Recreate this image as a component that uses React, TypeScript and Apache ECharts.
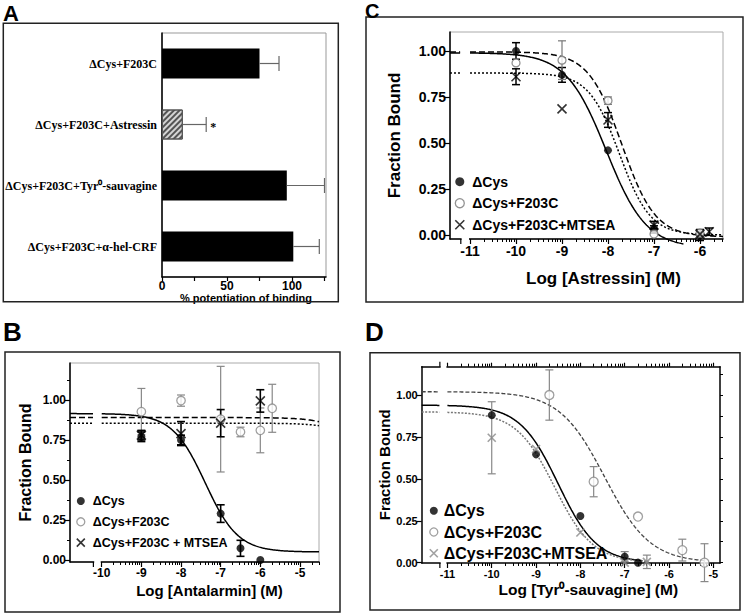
import React, { useEffect, useRef } from 'react';
import * as echarts from 'echarts';

const SANS = '"Liberation Sans", Arial, Helvetica, sans-serif';
const SERIF = '"Liberation Serif", "Times New Roman", serif';

// ---------------- Panel A data ----------------
const A_CATEGORIES = ['ΔCys+F203C', 'ΔCys+F203C+Astressin', 'ΔCys+F203C+Tyr⁰-sauvagine', 'ΔCys+F203C+α-hel-CRF'];
const A_VALUES = [75, 16, 96, 101];
const A_ERRORS = [15, 18, 29, 20];
const A_SIGNIF = ['', '*', '', ''];
const A_HATCHED = [false, true, false, false];
const A_X_TICKS = [0, 25, 50, 75, 100, 125];
const A_X_LABELS = [0, 50, 100];

// ---------------- Panel C data (Astressin) ----------------
const C_X_LABELS = [-11, -10, -9, -8, -7, -6];
const C_Y_LABELS = [0, 0.25, 0.5, 0.75, 1.0];
const C_CYS_X = [-10, -9, -8, -7, -6];
const C_CYS_Y = [1.0, 0.87, 0.46, 0.03, 0.0];
const C_CYS_ERR = [0.045, 0.04, 0, 0.02, 0.03];
const C_F203C_X = [-10, -9, -8, -7, -6];
const C_F203C_Y = [0.935, 0.95, 0.73, 0.005, 0.01];
const C_F203C_ERR = [0, 0.105, 0.02, 0, 0];
const C_MTSEA_X = [-10, -9, -8, -7, -6, -5.8];
const C_MTSEA_Y = [0.86, 0.685, 0.625, 0.054, 0.005, 0.018];
const C_MTSEA_ERR = [0.043, 0, 0.04, 0.02, 0, 0.02];
// fit: [top, bottom, logIC50, hill]
const C_FIT_CYS = [0.99, -0.07, -8.04, 1.0];
const C_FIT_F203C = [0.995, -0.01, -7.7, 1.2];
const C_FIT_MTSEA = [0.88, 0.0, -7.75, 1.3];

// ---------------- Panel B data (Antalarmin) ----------------
const B_X_LABELS = [-10, -9, -8, -7, -6, -5];
const B_Y_LABELS = [0, 0.25, 0.5, 0.75, 1.0];
const B_Y_MINOR = [0.125, 0.375, 0.625, 0.875, 1.125];
const B_CYS_X = [-9, -8, -7, -6.5, -6];
const B_CYS_Y = [0.77, 0.75, 0.29, 0.073, 0.0];
const B_CYS_ERR = [0.03, 0.03, 0.055, 0.05, 0];
const B_F203C_X = [-9, -8, -7, -6.5, -6, -5.7];
const B_F203C_Y = [0.927, 0.996, 0.88, 0.8, 0.81, 0.948];
const B_F203C_ERR = [0.145, 0.035, 0.33, 0.03, 0.14, 0.15];
const B_MTSEA_X = [-9, -8, -7, -6];
const B_MTSEA_Y = [0.78, 0.79, 0.855, 0.994];
const B_MTSEA_ERR = [0.03, 0.075, 0.085, 0.07];
const B_FIT_CYS = [0.915, 0.05, -7.39, 1.05];
const B_FIT_F203C = [0.89, 0.0, -3.0, 1.0];
const B_FIT_MTSEA = [0.855, 0.0, -2.8, 1.0];

// ---------------- Panel D data (Tyr0-sauvagine) ----------------
const D_X_LABELS = [-11, -10, -9, -8, -7, -6, -5];
const D_Y_LABELS = [0, 0.25, 0.5, 0.75, 1.0];
const D_Y_RIGHT_TICKS = [0, 0.125, 0.25, 0.375, 0.5, 0.625, 0.75, 0.875, 1.0, 1.125];
const D_CYS_X = [-10, -9, -8, -7, -6.7];
const D_CYS_Y = [0.88, 0.646, 0.278, 0.036, 0.0];
const D_CYS_ERR = [0, 0, 0, 0.03, 0];
const D_F203C_X = [-8.7, -7.7, -6.7, -5.7, -5.2];
const D_F203C_Y = [1.0, 0.483, 0.275, 0.075, 0.0];
const D_F203C_ERR = [0.15, 0.09, 0, 0.065, 0.113];
const D_MTSEA_X = [-10, -9, -8, -7, -6.5];
const D_MTSEA_Y = [0.745, 0.678, 0.18, 0.0, 0.005];
const D_MTSEA_ERR = [0.215, 0, 0, 0, 0.04];
const D_FIT_CYS = [0.94, 0.0, -8.5, 1.0];
const D_FIT_F203C = [1.02, 0.0, -7.45, 0.85];
const D_FIT_MTSEA = [0.9, 0.0, -8.58, 1.0];

// ---------------- layout ----------------
const GA = { left: 162, top: 33, width: 164, height: 244 };
const PC = { grid: { left: 450, top: 32, width: 273, height: 207 }, xMin: -11.435, xMax: -5.5, yMin: -0.0217, yMax: 1.103, brk: [-11.2, -11.0] };
const PB = { grid: { left: 70, top: 363, width: 249, height: 199 }, xMin: -10.8, xMax: -4.52, yMin: -0.0125, yMax: 1.231, brk: [-10.21, -10.0] };
const PD = { grid: { left: 421.7, top: 366.7, width: 298.3, height: 196.3 }, xMin: -11.58, xMax: -4.85, yMin: -0.002, yMax: 1.169, brk: [-11.17, -11.0] };

const X_SYMBOL = 'path://M0,0L10,10M10,0L0,10';

function logMinor(from: number, to: number, xMax: number) {
  const out: number[] = [];
  for (let d = from; d < to; d++) {
    for (let k = 2; k <= 9; k++) {
      const v = d + Math.log10(k);
      if (v < xMax) out.push(v);
    }
  }
  return out;
}

function sigmoid(fit: number[], x: number) {
  const [top, bottom, ec50, hill] = fit;
  return bottom + (top - bottom) / (1 + Math.pow(10, hill * (x - ec50)));
}

function curveData(fit: number[], x0: number, brk: number[], x1: number) {
  const pts: any[] = [];
  const step = 0.02;
  for (let x = x0; x < brk[0]; x += step) pts.push([x, sigmoid(fit, x)]);
  pts.push([brk[0], sigmoid(fit, brk[0])]);
  pts.push([(brk[0] + brk[1]) / 2, '-']);
  for (let x = brk[1]; x < x1; x += step) pts.push([x, sigmoid(fit, x)]);
  pts.push([x1, sigmoid(fit, x1)]);
  return pts;
}

function lineSeries(name: string, data: any[], xi: number, yi: number, color: string, type: any, width = 1.5) {
  return {
    type: 'line', name, xAxisIndex: xi, yAxisIndex: yi, data, showSymbol: false, symbol: 'none',
    connectNulls: false, clip: false, silent: true, z: 2,
    lineStyle: { color, width, type },
  };
}

function errSeries(name: string, xs: number[], ys: number[], errs: number[], xi: number, yi: number, color: string, width: number, cap: number) {
  return {
    type: 'custom', name, xAxisIndex: xi, yAxisIndex: yi, z: 3, clip: false, silent: true,
    data: xs.map((x, i) => [x, ys[i], errs[i]]).filter((d) => d[2] > 0),
    encode: { x: 0, y: 1 },
    renderItem: (_p: any, api: any) => {
      const x = api.value(0), y = api.value(1), e = api.value(2);
      const t = api.coord([x, y + e]);
      const b = api.coord([x, y - e]);
      const st = { stroke: color, lineWidth: width };
      return {
        type: 'group',
        children: [
          { type: 'line', shape: { x1: t[0], y1: t[1], x2: b[0], y2: b[1] }, style: st },
          { type: 'line', shape: { x1: t[0] - cap, y1: t[1], x2: t[0] + cap, y2: t[1] }, style: st },
          { type: 'line', shape: { x1: b[0] - cap, y1: b[1], x2: b[0] + cap, y2: b[1] }, style: st },
        ],
      };
    },
  };
}

function markerStyle(kind: string, color: string) {
  if (kind === 'open') return { symbol: 'circle', itemStyle: { color: '#fff', borderColor: color, borderWidth: 1.3 } };
  if (kind === 'x') return { symbol: X_SYMBOL, itemStyle: { color: 'rgba(0,0,0,0)', borderColor: color, borderWidth: 1.6 } };
  return { symbol: 'circle', itemStyle: { color, borderColor: color, borderWidth: 0 } };
}

function scatterSeries(name: string, xs: number[], ys: number[], xi: number, yi: number, kind: string, color: string, size: number) {
  const m = markerStyle(kind, color);
  return {
    type: 'scatter', name, xAxisIndex: xi, yAxisIndex: yi, z: 4, clip: false, silent: true,
    symbol: m.symbol, symbolSize: size, itemStyle: m.itemStyle,
    data: xs.map((x, i) => [x, ys[i]]),
  };
}

function mainX(gi: number, p: any, labels: number[], fontSize: number, name: string, nameGap: number, nameSize: number, padLeft: number) {
  return {
    type: 'value', gridIndex: gi, position: 'bottom', min: p.xMin, max: p.xMax,
    axisLine: { show: true, onZero: false, lineStyle: { color: '#000', width: 1.5 } },
    axisTick: { show: true, customValues: labels, length: 5, lineStyle: { color: '#000', width: 1.2 } },
    axisLabel: {
      show: true, customValues: labels, margin: 5, color: '#000', fontSize, fontWeight: 'bold', fontFamily: SANS,
      formatter: (v: number) => String(v),
    },
    splitLine: { show: false },
    name, nameLocation: 'middle', nameGap,
    nameTextStyle: { color: '#000', fontSize: nameSize, fontWeight: 'bold', fontFamily: SANS, padding: [0, 0, 0, padLeft] },
  };
}

function tickOnlyX(gi: number, p: any, ticks: number[], position: string, length: number) {
  return {
    type: 'value', gridIndex: gi, position, min: p.xMin, max: p.xMax,
    axisLine: { show: true, onZero: false, lineStyle: { color: '#000', width: 1.5, opacity: 0 } },
    axisTick: { show: true, customValues: ticks, length, lineStyle: { color: '#000', width: 1 } },
    axisLabel: { show: false },
    splitLine: { show: false },
  };
}

function mainY(gi: number, p: any, labels: number[], fontSize: number, name: string, nameGap: number, nameSize: number) {
  return {
    type: 'value', gridIndex: gi, position: 'left', min: p.yMin, max: p.yMax,
    axisLine: { show: true, onZero: false, lineStyle: { color: '#000', width: 1.5 } },
    axisTick: { show: true, customValues: labels, length: 5, lineStyle: { color: '#000', width: 1.2 } },
    axisLabel: {
      show: true, customValues: labels, margin: 4, color: '#000', fontSize, fontWeight: 'bold', fontFamily: SANS,
      formatter: (v: number) => v.toFixed(2),
    },
    splitLine: { show: false },
    name, nameLocation: 'middle', nameGap, nameRotate: 90,
    nameTextStyle: { color: '#000', fontSize: nameSize, fontWeight: 'bold', fontFamily: SANS },
  };
}

function legendCfg(items: { name: string; kind: string; color: string }[], left: number, top: number, icon: number, fontSize: number, lineHeight: number, gap: number, pad: number) {
  return {
    data: items.map((it) => {
      const m = markerStyle(it.kind, it.color);
      return { name: it.name, icon: m.symbol, itemStyle: m.itemStyle };
    }),
    orient: 'vertical', left, top, padding: 0, itemWidth: icon, itemHeight: icon, itemGap: gap,
    selectedMode: false,
    formatter: (n: string) => n.split('|')[1],
    textStyle: { color: '#000', fontSize, fontWeight: 'bold', fontFamily: SANS, lineHeight, padding: [0, 0, 0, pad] },
  };
}

function buildOption() {
  const cMinor = logMinor(-11, -5, PC.xMax);
  const bMinor = logMinor(-10, -4, PB.xMax);
  const dMinor = logMinor(-11, -4, PD.xMax);

  const grids = [
    { ...GA, show: true, borderColor: '#999', borderWidth: 1, backgroundColor: 'transparent', outerBoundsMode: 'none' },
    { ...PC.grid, show: true, borderColor: '#aaa', borderWidth: 1, backgroundColor: 'transparent', outerBoundsMode: 'none' },
    { ...PB.grid, show: true, borderColor: '#aaa', borderWidth: 1, backgroundColor: 'transparent', outerBoundsMode: 'none' },
    { ...PD.grid, show: false, outerBoundsMode: 'none' },
  ];

  const xAxis = [
    // 0: A
    {
      type: 'value', gridIndex: 0, position: 'bottom', min: 0, max: GA.width / 1.3,
      axisLine: { show: true, onZero: false, lineStyle: { color: '#000', width: 1.5 } },
      axisTick: { show: true, customValues: A_X_TICKS, length: 4, lineStyle: { color: '#000', width: 1.2 } },
      axisLabel: { show: true, customValues: A_X_LABELS, margin: 3, color: '#000', fontSize: 12, fontWeight: 'bold', fontFamily: SANS },
      splitLine: { show: false },
      name: '% potentiation of binding', nameLocation: 'middle', nameGap: 14,
      nameTextStyle: { color: '#000', fontSize: 11, fontWeight: 'bold', fontFamily: SANS, padding: [0, 0, 0, 4] },
    },
    // 1,2: C
    mainX(1, PC, C_X_LABELS, 14, 'Log [Astressin] (M)', 31, 17, 34),
    tickOnlyX(1, PC, cMinor, 'bottom', 3),
    // 3,4: B
    mainX(2, PB, B_X_LABELS, 12, 'Log [Antalarmin] (M)', 21, 15, 30),
    tickOnlyX(2, PB, bMinor, 'bottom', 3),
    // 5,6: D bottom
    mainX(3, PD, D_X_LABELS, 11, 'Log [Tyr⁰-sauvagine] (M)', 18, 15.5, 35),
    tickOnlyX(3, PD, dMinor, 'bottom', 3),
    // 7,8: D top
    {
      type: 'value', gridIndex: 3, position: 'top', min: PD.xMin, max: PD.xMax,
      axisLine: { show: true, onZero: false, lineStyle: { color: '#000', width: 1.5 } },
      axisTick: { show: true, customValues: D_X_LABELS, length: 4, lineStyle: { color: '#000', width: 1.2 } },
      axisLabel: { show: false }, splitLine: { show: false },
    },
    tickOnlyX(3, PD, dMinor, 'top', 3),
  ];

  const yAxis = [
    // 0: A
    {
      type: 'category', gridIndex: 0, data: A_CATEGORIES, inverse: true,
      axisLine: { show: true, onZero: false, lineStyle: { color: '#000', width: 1.5 } },
      axisTick: { show: false },
      axisLabel: { color: '#000', fontFamily: SERIF, fontWeight: 'bold', fontSize: 12, margin: 5 },
      splitLine: { show: false },
    },
    // 1: C
    mainY(1, PC, C_Y_LABELS, 14, 'Fraction Bound', 47, 17),
    // 2: B
    mainY(2, PB, B_Y_LABELS, 12, 'Fraction Bound', 37, 16),
    // 3: B minor
    {
      type: 'value', gridIndex: 2, position: 'left', min: PB.yMin, max: PB.yMax,
      axisLine: { show: true, onZero: false, lineStyle: { opacity: 0 } },
      axisTick: { show: true, customValues: B_Y_MINOR, length: 3, lineStyle: { color: '#000', width: 1 } },
      axisLabel: { show: false }, splitLine: { show: false },
    },
    // 4: D left
    mainY(3, PD, D_Y_LABELS, 11, 'Fraction Bound', 28, 15),
    // 5: D right
    {
      type: 'value', gridIndex: 3, position: 'right', min: PD.yMin, max: PD.yMax,
      axisLine: { show: true, onZero: false, lineStyle: { color: '#000', width: 1.5 } },
      axisTick: { show: true, customValues: D_Y_RIGHT_TICKS, length: 3, lineStyle: { color: '#000', width: 1 } },
      axisLabel: { show: false }, splitLine: { show: false },
    },
  ];

  const hatch = {
    color: '#d4d4d4', borderColor: '#555', borderWidth: 1,
    decal: { symbol: 'rect', symbolSize: 1, color: 'rgba(70,70,70,0.9)', dashArrayX: [1, 0], dashArrayY: [1.2, 2], rotation: -Math.PI / 4 },
  };

  const series: any[] = [
    // ---- A ----
    {
      type: 'bar', name: 'A-bars', xAxisIndex: 0, yAxisIndex: 0, barWidth: 30, silent: true, z: 2,
      itemStyle: { color: '#000' },
      data: A_VALUES.map((v, i) => (A_HATCHED[i] ? { value: v, itemStyle: hatch } : v)),
    },
    {
      type: 'custom', name: 'A-err', xAxisIndex: 0, yAxisIndex: 0, z: 3, clip: false, silent: true,
      data: A_VALUES.map((v, i) => [v, i, A_ERRORS[i]]),
      encode: { x: 0, y: 1 },
      renderItem: (params: any, api: any) => {
        const v = api.value(0), c = api.value(1), e = api.value(2);
        const p0 = api.coord([v, c]);
        const p1 = api.coord([v + e, c]);
        const st = { stroke: '#666', lineWidth: 1.2 };
        const children: any[] = [
          { type: 'line', shape: { x1: p0[0], y1: p0[1], x2: p1[0], y2: p1[1] }, style: st },
          { type: 'line', shape: { x1: p1[0], y1: p1[1] - 7.5, x2: p1[0], y2: p1[1] + 7.5 }, style: st },
        ];
        const sig = A_SIGNIF[params.dataIndex];
        if (sig) {
          children.push({
            type: 'text', x: p1[0] + 4, y: p1[1] + 2,
            style: { text: sig, fill: '#000', font: `bold 12px ${SERIF}`, textVerticalAlign: 'middle' },
          });
        }
        return { type: 'group', children };
      },
    },

    // ---- C ----
    lineSeries('C-fit-cys', curveData(C_FIT_CYS, PC.xMin, PC.brk, -6.35), 1, 1, '#000', 'solid'),
    lineSeries('C-fit-f203c', curveData(C_FIT_F203C, PC.xMin, PC.brk, PC.xMax), 1, 1, '#000', [6, 3]),
    lineSeries('C-fit-mtsea', curveData(C_FIT_MTSEA, PC.xMin, PC.brk, PC.xMax), 1, 1, '#000', [2, 2]),
    errSeries('C-err-cys', C_CYS_X, C_CYS_Y, C_CYS_ERR, 1, 1, '#000', 1.5, 4),
    errSeries('C-err-f203c', C_F203C_X, C_F203C_Y, C_F203C_ERR, 1, 1, '#777', 1.2, 4),
    errSeries('C-err-mtsea', C_MTSEA_X, C_MTSEA_Y, C_MTSEA_ERR, 1, 1, '#000', 1.5, 4),
    scatterSeries('C|ΔCys', C_CYS_X, C_CYS_Y, 1, 1, 'filled', '#000', 8),
    scatterSeries('C|ΔCys+F203C', C_F203C_X, C_F203C_Y, 1, 1, 'open', '#777', 8),
    scatterSeries('C|ΔCys+F203C+MTSEA', C_MTSEA_X, C_MTSEA_Y, 1, 1, 'x', '#000', 9),

    // ---- B ----
    lineSeries('B-fit-cys', curveData(B_FIT_CYS, PB.xMin, PB.brk, PB.xMax), 3, 2, '#000', 'solid'),
    lineSeries('B-fit-f203c', curveData(B_FIT_F203C, PB.xMin, PB.brk, PB.xMax), 3, 2, '#000', [6, 3]),
    lineSeries('B-fit-mtsea', curveData(B_FIT_MTSEA, PB.xMin, PB.brk, PB.xMax), 3, 2, '#000', [2, 2]),
    errSeries('B-err-f203c', B_F203C_X, B_F203C_Y, B_F203C_ERR, 3, 2, '#888', 1.2, 4),
    errSeries('B-err-cys', B_CYS_X, B_CYS_Y, B_CYS_ERR, 3, 2, '#000', 1.6, 4),
    errSeries('B-err-mtsea', B_MTSEA_X, B_MTSEA_Y, B_MTSEA_ERR, 3, 2, '#000', 1.6, 4),
    scatterSeries('B|ΔCys', B_CYS_X, B_CYS_Y, 3, 2, 'filled', '#000', 8),
    scatterSeries('B|ΔCys+F203C', B_F203C_X, B_F203C_Y, 3, 2, 'open', '#888', 8.5),
    scatterSeries('B|ΔCys+F203C + MTSEA', B_MTSEA_X, B_MTSEA_Y, 3, 2, 'x', '#000', 9),

    // ---- D ----
    lineSeries('D-fit-cys', curveData(D_FIT_CYS, PD.xMin, PD.brk, -6.6), 5, 4, '#000', 'solid'),
    lineSeries('D-fit-f203c', curveData(D_FIT_F203C, PD.xMin, PD.brk, -5.15), 5, 4, '#444', [4, 2], 1.3),
    lineSeries('D-fit-mtsea', curveData(D_FIT_MTSEA, PD.xMin, PD.brk, -6.45), 5, 4, '#777', [2, 1.5], 1.5),
    errSeries('D-err-cys', D_CYS_X, D_CYS_Y, D_CYS_ERR, 5, 4, '#888', 1.2, 4),
    errSeries('D-err-f203c', D_F203C_X, D_F203C_Y, D_F203C_ERR, 5, 4, '#888', 1.2, 4),
    errSeries('D-err-mtsea', D_MTSEA_X, D_MTSEA_Y, D_MTSEA_ERR, 5, 4, '#888', 1.2, 4),
    scatterSeries('D|ΔCys', D_CYS_X, D_CYS_Y, 5, 4, 'filled', '#000', 8),
    scatterSeries('D|ΔCys+F203C', D_F203C_X, D_F203C_Y, 5, 4, 'open', '#888', 9),
    scatterSeries('D|ΔCys+F203C+MTSEA', D_MTSEA_X, D_MTSEA_Y, 5, 4, 'x', '#888', 8),
  ];

  const legend = [
    legendCfg([
      { name: 'C|ΔCys', kind: 'filled', color: '#000' },
      { name: 'C|ΔCys+F203C', kind: 'open', color: '#777' },
      { name: 'C|ΔCys+F203C+MTSEA', kind: 'x', color: '#000' },
    ], 454.5, 173.7, 9, 14, 16, 5.5, 3),
    legendCfg([
      { name: 'B|ΔCys', kind: 'filled', color: '#000' },
      { name: 'B|ΔCys+F203C', kind: 'open', color: '#888' },
      { name: 'B|ΔCys+F203C + MTSEA', kind: 'x', color: '#000' },
    ], 76, 493.5, 8, 12.5, 15, 5.8, 3),
    legendCfg([
      { name: 'D|ΔCys', kind: 'filled', color: '#000' },
      { name: 'D|ΔCys+F203C', kind: 'open', color: '#888' },
      { name: 'D|ΔCys+F203C+MTSEA', kind: 'x', color: '#888' },
    ], 429, 501.7, 8, 16, 18, 3.3, 1),
  ];

  return {
    animation: false,
    backgroundColor: '#fff',
    textStyle: { fontFamily: SANS },
    grid: grids,
    xAxis,
    yAxis,
    legend,
    series,
  };
}

const FRAMES = [
  { x: 3.3, y: 23.3, w: 335, h: 278.4 },
  { x: 366, y: 17, w: 377, h: 285 },
  { x: 5, y: 352, w: 335, h: 260 },
  { x: 370, y: 352.7, w: 370, h: 257.3 },
];
const LETTERS = [
  { t: 'A', x: 3, y: 13, s: 22 },
  { t: 'C', x: 365, y: 10.5, s: 20 },
  { t: 'B', x: 3, y: 331.7, s: 26 },
  { t: 'D', x: 365, y: 331.7, s: 26 },
];

function buildGraphics(chart: any) {
  const g: any[] = [];
  FRAMES.forEach((f) => {
    g.push({ type: 'rect', z: 50, silent: true, shape: { x: f.x, y: f.y, width: f.w, height: f.h }, style: { fill: 'none', stroke: '#222', lineWidth: 1.5 } });
  });
  LETTERS.forEach((l) => {
    g.push({ type: 'text', z: 50, silent: true, x: l.x, y: l.y, style: { text: l.t, fill: '#000', font: `bold ${l.s}px ${SANS}`, textVerticalAlign: 'middle' } });
  });
  const breaks = [
    { xi: 1, p: PC, ys: [PC.grid.top + PC.grid.height], dirs: [1] },
    { xi: 3, p: PB, ys: [PB.grid.top + PB.grid.height], dirs: [1] },
    { xi: 5, p: PD, ys: [PD.grid.top + PD.grid.height, PD.grid.top], dirs: [1, -1] },
  ];
  breaks.forEach((b) => {
    const x0 = chart.convertToPixel({ xAxisIndex: b.xi }, b.p.brk[0]);
    const x1 = chart.convertToPixel({ xAxisIndex: b.xi }, b.p.brk[1]);
    b.ys.forEach((y, k) => {
      g.push({ type: 'rect', z: 100, silent: true, shape: { x: x0 + 0.8, y: y - 2.5, width: x1 - x0 - 1.8, height: 5 }, style: { fill: '#fff' } });
      g.push({ type: 'line', z: 101, silent: true, shape: { x1: x0, y1: y, x2: x0, y2: y + 5 * b.dirs[k] }, style: { stroke: '#000', lineWidth: 1.2 } });
    });
  });
  return g;
}

export default function App() {
  const ref = useRef<HTMLDivElement>(null);
  useEffect(() => {
    document.body.style.margin = '0';
    const chart = echarts.init(ref.current!, null, { renderer: 'svg', width: 745, height: 615 });
    chart.setOption(buildOption() as any);
    chart.setOption({ graphic: buildGraphics(chart) } as any);
    return () => chart.dispose();
  }, []);
  return <div ref={ref} style={{ position: 'absolute', left: 0, top: 0, width: 745, height: 615, background: '#fff' }} />;
}
